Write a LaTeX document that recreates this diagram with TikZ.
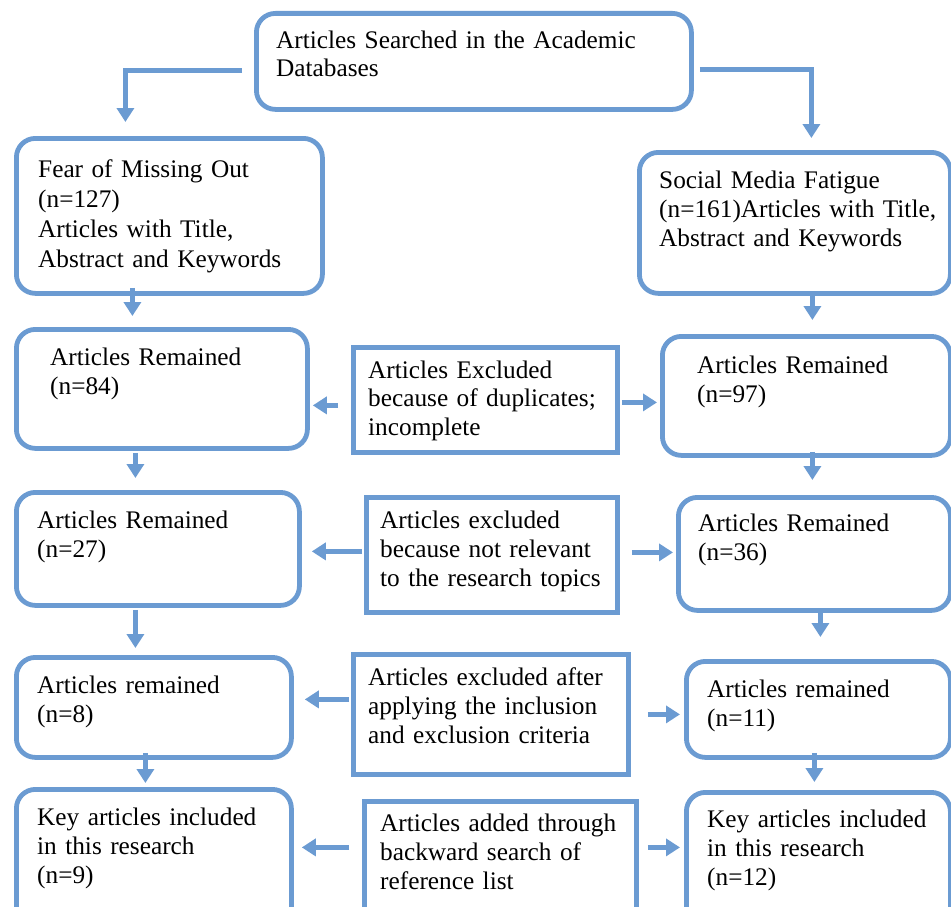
\documentclass[tikz,border=0pt]{standalone}
\usepackage{fontspec}
\setmainfont{Liberation Serif}
\usetikzlibrary{arrows.meta}
\definecolor{bl}{RGB}{107,155,210}
\tikzset{
  rbox/.style={draw=bl, line width=4.8pt, rounded corners=19pt, anchor=north west, inner sep=0pt},
  sbox/.style={draw=bl, line width=4.8pt, anchor=north west, inner sep=0pt},
  txt/.style={anchor=base west, align=left, inner sep=0pt, text width=520pt,
    font=\fontsize{25.3}{29.3}\selectfont},
  arr/.style={draw=bl, line width=4.4pt, -{Triangle[width=17pt,length=14pt]}}
}
\begin{document}
\begin{tikzpicture}[x=1pt,y=-1pt]
\useasboundingbox (0,0) rectangle (951,907);
\clip (0,0) rectangle (951,907);
% boxes
\node[rbox, minimum width=435pt, minimum height=96pt]  (top)  at (254,11) {};
\node[rbox, minimum width=306pt, minimum height=155pt] (fomo) at (14,136) {};
\node[rbox, minimum width=311pt, minimum height=141pt] (smf)  at (637,150) {};
\node[rbox, minimum width=291pt, minimum height=119pt] (r84)  at (14,327) {};
\node[sbox, minimum width=264pt, minimum height=105pt] (ex1)  at (351,345) {};
\node[rbox, minimum width=288pt, minimum height=119pt] (r97)  at (660,334) {};
\node[rbox, minimum width=283pt, minimum height=113pt] (r27)  at (14,490) {};
\node[sbox, minimum width=251pt, minimum height=115pt] (ex2)  at (364,495) {};
\node[rbox, minimum width=272pt, minimum height=113pt] (r36)  at (676,495) {};
\node[rbox, minimum width=275pt, minimum height=100pt] (r8)   at (14,655) {};
\node[sbox, minimum width=275pt, minimum height=120pt] (ex3)  at (351,652) {};
\node[rbox, minimum width=264pt, minimum height=96pt]  (r11)  at (684,659) {};
\node[rbox, minimum width=275pt, minimum height=143pt] (k9)   at (14,787) {};
\node[sbox, minimum width=272pt, minimum height=131pt] (ex4)  at (362,799) {};
\node[rbox, minimum width=264pt, minimum height=140pt] (k12)  at (684,790) {};
% texts
\node[txt, font=\fontsize{25.3}{28}\selectfont] (ttop) at (276,49) {Articles Searched in the Academic\\Databases};
\node[txt, font=\fontsize{25.3}{30.3}\selectfont] (tfomo) at (38,177) {Fear of Missing Out\\(n=127)\\Articles with Title,\\Abstract and Keywords};
\node[txt] (tsmf) at (659,188) {Social Media Fatigue\\(n=161)Articles with Title,\\Abstract and Keywords};
\node[txt] (tr84) at (50,365) {Articles Remained\\(n=84)};
\node[txt, font=\fontsize{25.3}{28.5}\selectfont] (tex1) at (368,378) {Articles Excluded\\because of duplicates;\\incomplete};
\node[txt] (tr97) at (697,373) {Articles Remained\\(n=97)};
\node[txt] (tr27) at (37,528) {Articles Remained\\(n=27)};
\node[txt] (tex2) at (380,528) {Articles excluded\\because not relevant\\to the research topics};
\node[txt] (tr36) at (698,531) {Articles Remained\\(n=36)};
\node[txt] (tr8) at (37,693) {Articles remained\\(n=8)};
\node[txt] (tex3) at (368,685) {Articles excluded after\\applying the inclusion\\and exclusion criteria};
\node[txt] (tr11) at (707,697) {Articles remained\\(n=11)};
\node[txt] (tk9) at (37,825) {Key articles included\\in this research\\(n=9)};
\node[txt] (tex4) at (380,831) {Articles added through\\backward search of\\reference list};
\node[txt] (tk12) at (707,827) {Key articles included\\in this research\\(n=12)};
% connectors from the top box
\draw[arr] ([xshift=-12pt,yshift=-9pt]top.west) -| ([xshift=-44pt,yshift=14pt]fomo.north);
\draw[arr] ([xshift=6pt,yshift=-8pt]top.east) -| ([xshift=16.5pt,yshift=12pt]smf.north);
% vertical connectors
\draw[arr] ([xshift=-37pt,yshift=8pt]fomo.south) -- ([xshift=-29.5pt,yshift=11pt]r84.north);
\draw[arr] ([xshift=17.5pt,yshift=4pt]smf.south) -- ([xshift=6pt,yshift=14pt]r97.north);
\draw[arr] ([xshift=-26.5pt,yshift=-2pt]r84.south) -- ([xshift=-22.5pt,yshift=12pt]r27.north);
\draw[arr] ([xshift=6pt,yshift=6pt]r97.south) -- ([xshift=-2pt,yshift=15pt]r36.north);
\draw[arr] ([xshift=-22.5pt,yshift=-2pt]r27.south) -- ([xshift=-18.5pt,yshift=7pt]r8.north);
\draw[arr] ([xshift=6pt,yshift=4pt]r36.south) -- ([xshift=2pt,yshift=22pt]r11.north);
\draw[arr] ([xshift=-8.5pt,yshift=7pt]r8.south) -- ([xshift=-8.5pt,yshift=4pt]k9.north);
\draw[arr] ([xshift=-4pt,yshift=7pt]r11.south) -- ([xshift=-4pt,yshift=8pt]k12.north);
% horizontal connectors
\draw[arr] ([xshift=-13pt,yshift=-5.5pt]ex1.west) -- ([xshift=3pt,yshift=-16.5pt]r84.east);
\draw[arr] ([xshift=2pt,yshift=-2.5pt]ex1.east) -- ([xshift=-3pt,yshift=-6.5pt]r97.west);
\draw[arr] ([xshift=-2pt,yshift=3.5pt]ex2.west) -- ([xshift=10pt,yshift=-2.5pt]r27.east);
\draw[arr] ([xshift=12pt,yshift=2.5pt]ex2.east) -- ([xshift=-3pt,yshift=1.5pt]r36.west);
\draw[arr] ([xshift=-2pt,yshift=15pt]ex3.west) -- ([xshift=11pt,yshift=8pt]r8.east);
\draw[arr] ([xshift=17pt,yshift=0pt]ex3.east) -- ([xshift=-4pt,yshift=-5pt]r11.west);
\draw[arr] ([xshift=-13pt,yshift=19.5pt]ex4.west) -- ([xshift=8pt,yshift=13.5pt]k9.east);
\draw[arr] ([xshift=9pt,yshift=19.5pt]ex4.east) -- ([xshift=-4pt,yshift=15pt]k12.west);
\end{tikzpicture}
\end{document}
